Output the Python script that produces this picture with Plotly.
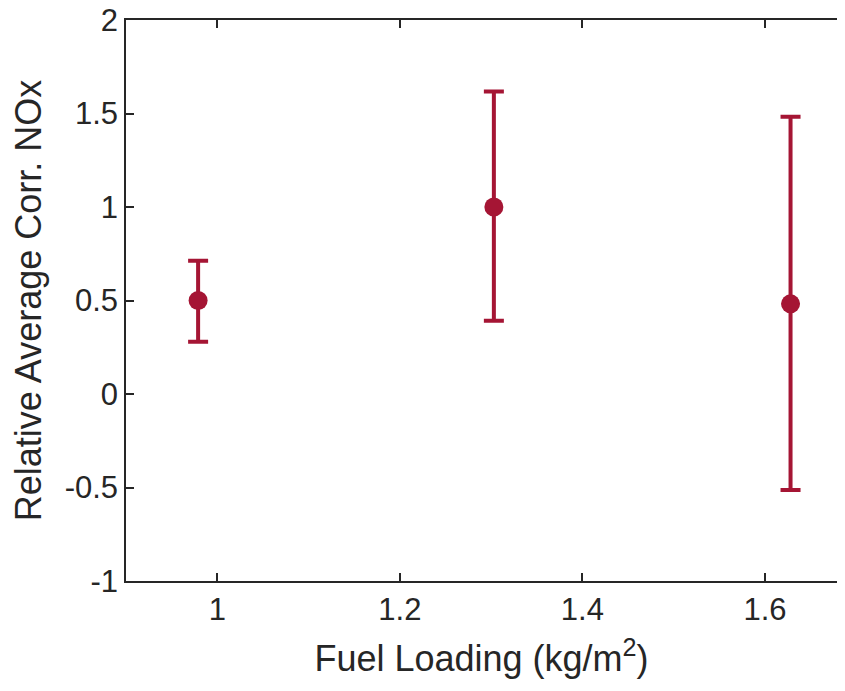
import plotly.graph_objects as go

fuel_loading = [0.979, 1.303, 1.628]
rel_nox = [0.50, 1.00, 0.482]
err_upper = [0.713, 1.617, 1.482]
err_lower = [0.280, 0.392, -0.513]

x_tick_vals = [1.0, 1.2, 1.4, 1.6]
x_tick_text = ["1", "1.2", "1.4", "1.6"]
y_tick_vals = [-1, -0.5, 0, 0.5, 1, 1.5, 2]
y_tick_text = ["-1", "-0.5", "0", "0.5", "1", "1.5", "2"]

plus = [u - v for u, v in zip(err_upper, rel_nox)]
minus = [v - l for v, l in zip(rel_nox, err_lower)]

color = "#A51534"
axis_col = "#262626"
font_family = "Liberation Sans, Arial, Helvetica, sans-serif"

fig = go.Figure(
    go.Scatter(
        x=fuel_loading,
        y=rel_nox,
        mode="markers",
        marker=dict(size=19, color=color),
        error_y=dict(
            type="data",
            symmetric=False,
            array=plus,
            arrayminus=minus,
            color=color,
            thickness=4,
            width=10,
        ),
        showlegend=False,
    )
)

# page body has an 8px margin; compensate so the plot lands where the reference has it
fig.update_layout(
    width=829,
    height=675,
    margin=dict(l=118, r=0, t=12, b=102, autoexpand=False),
    paper_bgcolor="white",
    plot_bgcolor="white",
    font=dict(family=font_family, color=axis_col, size=31),
)

fig.update_xaxes(
    range=[0.9, 1.6789],
    tickvals=x_tick_vals,
    ticktext=x_tick_text,
    ticks="inside",
    ticklen=8,
    tickwidth=1.5,
    tickcolor=axis_col,
    showline=True,
    linecolor=axis_col,
    linewidth=1.5,
    mirror="ticks",
    showgrid=False,
    zeroline=False,
    automargin=False,
    tickfont=dict(size=31, color=axis_col),
    title=dict(text="Fuel Loading (kg/m<sup>2</sup>)", font=dict(size=36, color=axis_col), standoff=20),
)

fig.update_yaxes(
    range=[-1, 2],
    tickvals=y_tick_vals,
    ticktext=y_tick_text,
    ticks="inside",
    ticklen=8,
    tickwidth=1.5,
    tickcolor=axis_col,
    showline=True,
    linecolor=axis_col,
    linewidth=1.5,
    showgrid=False,
    zeroline=False,
    automargin=False,
    ticklabeloverflow="allow",
    tickfont=dict(size=31, color=axis_col),
    title=dict(text="Relative Average Corr. NOx", font=dict(size=36, color=axis_col), standoff=12),
)

fig.write_html("out.html")
